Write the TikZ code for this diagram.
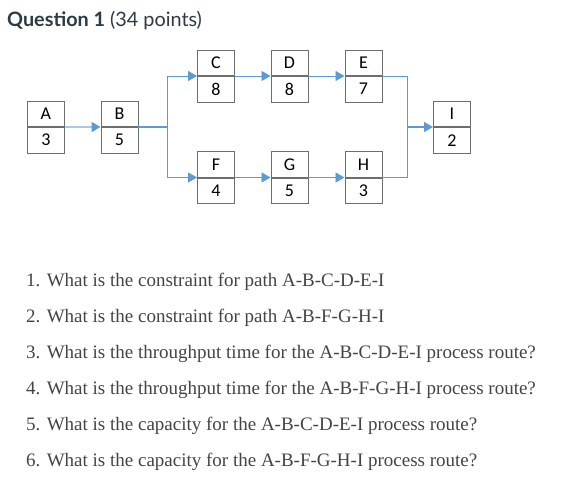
\documentclass[tikz,border=0pt]{standalone}
\usepackage{fontspec}
\setmainfont{Liberation Serif}
\newfontfamily\latofont{Lato}
\newfontfamily\boxfont{Carlito}
\usetikzlibrary{arrows.meta}
\definecolor{boxline}{HTML}{6E6E6E}
\definecolor{arrowblue}{HTML}{5B9BD5}
\definecolor{lightblue}{HTML}{A9C8E8}
\definecolor{titlegray}{HTML}{2D3B45}
\definecolor{textgray}{HTML}{444444}
\begin{document}
\begin{tikzpicture}[x=1pt,y=-1pt,
  cell/.style={draw=boxline,line width=0.9pt,minimum width=37pt,minimum height=25.5pt,inner sep=0pt,font=\boxfont\fontsize{18}{18}\selectfont,text=black},
  conn/.style={draw=arrowblue,line width=0.9pt},
  tip/.style={-{Triangle[length=9pt,width=10pt]}},
  qline/.style={anchor=base west,inner sep=0pt,text=textgray,font=\fontsize{19}{19}\selectfont}
]
\useasboundingbox (0,0) rectangle (577,492);
\fill[white] (0,0) rectangle (577,492);
% title
\node[anchor=base west,inner sep=0pt,text=titlegray,font=\latofont\fontsize{19.8}{19.8}\selectfont] (title) at (7,27) {\textbf{Question 1} (34 points)};
% boxes: top cell / bottom cell
\newcommand\mkbox[5]{%
  \node[cell,anchor=south west] (#1t) at (#2,#3) {#4};
  \node[cell,anchor=north west] (#1b) at (#2,#3) {#5};
}
\mkbox{A}{27}{127}{A}{3}
\mkbox{B}{100.5}{127}{B}{5}
\mkbox{C}{197}{76}{C}{8}
\mkbox{D}{270.5}{76}{D}{8}
\mkbox{E}{344.5}{76}{E}{7}
\mkbox{F}{197}{177.5}{F}{4}
\mkbox{G}{270.5}{177.5}{G}{5}
\mkbox{H}{344.5}{177.5}{H}{3}
\mkbox{I}{433}{127}{I}{2}
% junctions
\coordinate (j1) at (167,127);
\coordinate (j2) at (407,127);
% connectors
\draw[draw=lightblue,line width=2pt,-{Triangle[length=9pt,width=10pt,color=arrowblue]}] (At.south east) -- (Bt.south west);
\draw[conn,line width=1.3pt] (Bt.south east) -- (j1);
\draw[conn,tip] (j1) |- (Ct.south west);
\draw[conn,tip] (j1) |- (Ft.south west);
\draw[conn,tip] (Ct.south east) -- (Dt.south west);
\draw[conn,tip] (Dt.south east) -- (Et.south west);
\draw[conn,tip] (Ft.south east) -- (Gt.south west);
\draw[conn,tip] (Gt.south east) -- (Ht.south west);
\draw[conn] (Et.south east) -| (j2);
\draw[conn] (Ht.south east) -| (j2);
\draw[conn,line width=1.3pt,tip] (j2) -- (It.south west);
% questions
\node[qline] (q1) at (26,286) {1. What is the constraint for path A-B-C-D-E-I};
\node[qline] (q2) at (26,322) {2. What is the constraint for path A-B-F-G-H-I};
\node[qline] (q3) at (26,358) {3. What is the throughput time for the A-B-C-D-E-I process route?};
\node[qline] (q4) at (26,394) {4. What is the throughput time for the A-B-F-G-H-I process route?};
\node[qline] (q5) at (26,430) {5. What is the capacity for the A-B-C-D-E-I process route?};
\node[qline] (q6) at (26,466) {6. What is the capacity for the A-B-F-G-H-I process route?};
\end{tikzpicture}
\end{document}
